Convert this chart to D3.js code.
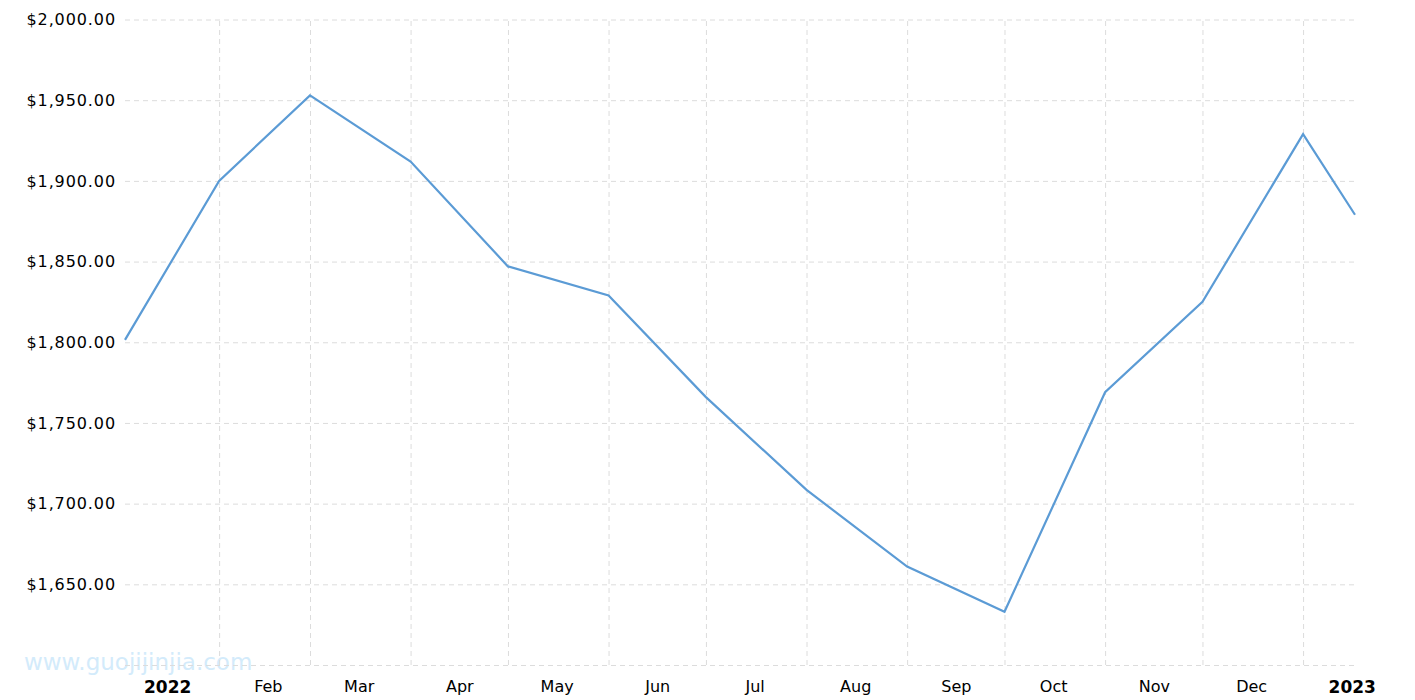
<!DOCTYPE html>
<html><head><meta charset="utf-8">
<script src="https://cdn.jsdelivr.net/npm/d3@7/dist/d3.min.js"></script>
<style>body{margin:0;background:#fff}svg{display:block}</style>
</head><body><svg id="c" width="1415" height="700"></svg>
<script>
const dates = ["2022-01-03","2022-02-01","2022-03-01","2022-04-01","2022-05-01","2022-06-01","2022-07-01","2022-08-01","2022-09-01","2022-10-01","2022-11-01","2022-12-01","2023-01-01","2023-01-17"];
const prices = [1801.5,1900,1953,1912,1847,1829,1766,1708.5,1661,1633,1769,1825,1929,1879];
const yGridTicks = [1600,1650,1700,1750,1800,1850,1900,1950,2000];
const yLabelTicks = [1650,1700,1750,1800,1850,1900,1950,2000];
const monthLabels = ["2022","Feb","Mar","Apr","May","Jun","Jul","Aug","Sep","Oct","Nov","Dec","2023"];
const labelDates = ["2022-01-16","2022-02-16","2022-03-16","2022-04-16","2022-05-16","2022-06-16","2022-07-16","2022-08-16","2022-09-16","2022-10-16","2022-11-16","2022-12-16","2023-01-16"];
const gridDates = ["2022-02-01","2022-03-01","2022-04-01","2022-05-01","2022-06-01","2022-07-01","2022-08-01","2022-09-01","2022-10-01","2022-11-01","2022-12-01","2023-01-01"];

const parse = d3.utcParse("%Y-%m-%d");
const svg = d3.select("#c");
const L = 125, R = 1355, T = 19.5, B = 665;
const x = d3.scaleUtc().domain([parse(dates[0]), parse(dates[dates.length-1])]).range([L, R]);
const y = d3.scaleLinear().domain([1600, 2000]).range([B, T]);
const fmt = v => "$" + d3.format(",.2f")(v);
const FONT = "DejaVu Sans, Verdana, sans-serif";

// watermark
svg.append("text").attr("x", 24).attr("y", 670)
  .attr("font-family", FONT).attr("font-size", 23)
  .attr("fill", "#d3ebfb").text("www.guojijinjia.com");

// horizontal grid
const gy = svg.append("g").attr("transform", `translate(${L},0)`)
  .call(d3.axisLeft(y).tickValues(yGridTicks).tickSize(-(R - L)).tickFormat(""));
gy.select(".domain").remove();
gy.selectAll(".tick line").attr("stroke", "#dcdcdc").attr("stroke-dasharray", "5,4");

// y labels
const gyl = svg.append("g").attr("transform", `translate(${L},0)`)
  .call(d3.axisLeft(y).tickValues(yLabelTicks).tickSize(0).tickPadding(10).tickFormat(fmt));
gyl.select(".domain").remove();
gyl.selectAll(".tick text").attr("font-family", FONT)
  .attr("font-size", 16).attr("letter-spacing", "0.9px").attr("fill", "#000").attr("x", -9);

// vertical grid
const gx = svg.append("g").attr("transform", `translate(0,${B})`)
  .call(d3.axisBottom(x).tickValues(gridDates.map(parse)).tickSize(-(B - T)).tickFormat(""));
gx.select(".domain").remove();
gx.selectAll(".tick line").attr("stroke", "#dcdcdc").attr("stroke-dasharray", "5,4");

// month labels
const gl = svg.append("g").attr("transform", `translate(0,${B})`)
  .call(d3.axisBottom(x).tickValues(labelDates.map(parse)).tickSize(0).tickPadding(16)
    .tickFormat((d, i) => monthLabels[i]));
gl.select(".domain").remove();
gl.selectAll(".tick text").attr("font-family", FONT).attr("fill", "#000")
  .attr("font-weight", (d, i) => /^\d{4}$/.test(monthLabels[i]) ? "bold" : "normal")
  .attr("font-size", (d, i) => /^\d{4}$/.test(monthLabels[i]) ? 17 : 16);

// line
const data = dates.map((d, i) => ({date: parse(d), v: prices[i]}));
svg.append("path").datum(data)
  .attr("fill", "none").attr("stroke", "#5b9bd5").attr("stroke-width", 2.2)
  .attr("stroke-linejoin", "miter")
  .attr("d", d3.line().x(d => x(d.date)).y(d => y(d.v)));
</script></body></html>
